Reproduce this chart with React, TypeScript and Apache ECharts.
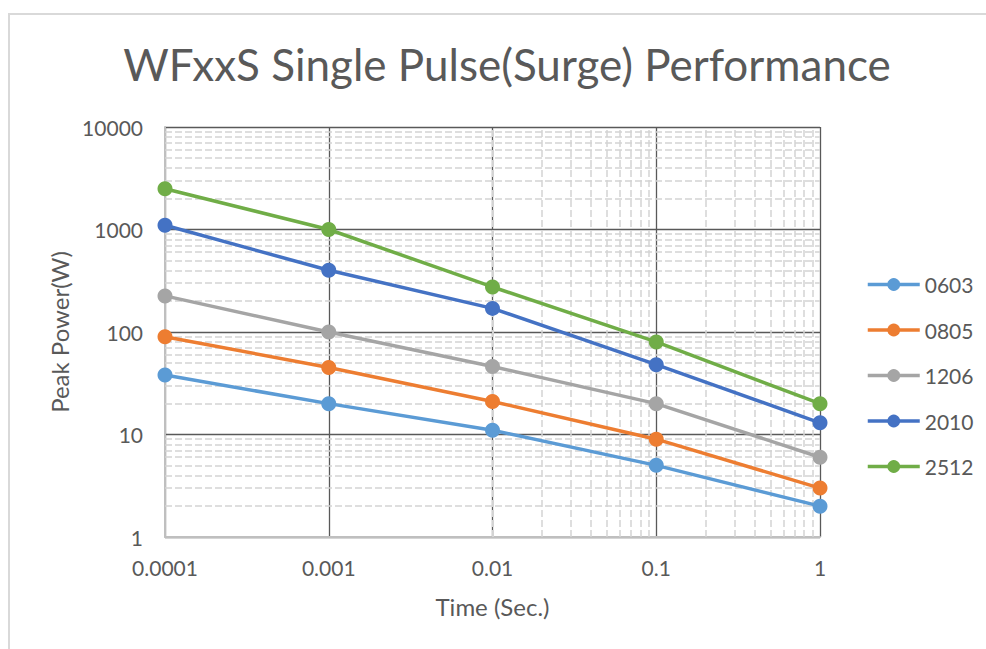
import React, { useEffect, useRef } from "react";
import * as echarts from "echarts";

const seriesNames = ["0603", "0805", "1206", "2010", "2512"];
const seriesColors = ["#5B9BD5", "#ED7D31", "#A5A5A5", "#4472C4", "#70AD47"];
const timeValues = [0.0001, 0.001, 0.01, 0.1, 1];
const xTickLabels = ["0.0001", "0.001", "0.01", "0.1", "1"];
const yTickLabels = ["1", "10", "100", "1000", "10000"];

const power0603 = [38, 20, 11, 5, 2];
const power0805 = [90, 45, 21, 9, 3];
const power1206 = [225, 100, 46, 20, 6];
const power2010 = [1100, 400, 170, 48, 13];
const power2512 = [2500, 1000, 275, 80, 20];
const allPower = [power0603, power0805, power1206, power2010, power2512];

const xDecades = [0.0001, 0.001, 0.01, 0.1];
const yDecades = [1, 10, 100, 1000];
const minorMultipliers = [2, 3, 4, 5, 6, 7, 8, 9];

const FONT = "Lato, 'Noto Sans', sans-serif";
const TEXT = "#595959";

export default function App() {
  const ref = useRef<HTMLDivElement>(null);
  useEffect(() => {
    if (!ref.current) return;
    const chart = echarts.init(ref.current, null, { renderer: "svg" });
    const minorX: any[] = [];
    xDecades.forEach((d) =>
      minorMultipliers.forEach((m) => minorX.push({ xAxis: parseFloat((d * m).toPrecision(6)) }))
    );
    const minorY: any[] = [];
    yDecades.forEach((d) =>
      minorMultipliers.forEach((m) => minorY.push({ yAxis: d * m }))
    );
    const dataSeries = seriesNames.map((name, i) => ({
      name,
      type: "line",
      z: 5,
      data: timeValues.map((t, j) => [t, allPower[i][j]]),
      symbol: "circle",
      symbolSize: 15,
      lineStyle: { color: seriesColors[i], width: 3.5 },
      itemStyle: { color: seriesColors[i] },
      color: seriesColors[i],
    }));
    chart.setOption({
      animation: false,
      backgroundColor: "#ffffff",
      title: {
        text: "WFxxS Single Pulse(Surge) Performance",
        left: 502,
        top: 37,
        textAlign: "center",
        textStyle: { fontFamily: FONT, fontSize: 44, fontWeight: "normal", color: TEXT },
      },
      graphic: [
        {
          type: "polyline",
          shape: { points: [[9, 660], [9, 14], [1000, 14]] },
          style: { stroke: "#d9d9d9", lineWidth: 2, fill: "none" },
          silent: true,
        },
      ],
      legend: {
        orient: "vertical",
        left: 866,
        top: 274,
        padding: 0,
        itemWidth: 52,
        itemHeight: 16,
        itemGap: 24.5,
        data: seriesNames,
        lineStyle: { width: 3.5 },
        textStyle: { fontFamily: FONT, fontSize: 21, color: TEXT },
      },
      grid: { left: 165, right: 166, top: 127, bottom: 112, containLabel: false },
      xAxis: {
        type: "log",
        logBase: 10,
        min: 0.0001,
        max: 1,
        z: 3,
        name: "Time (Sec.)",
        nameLocation: "middle",
        nameGap: 57,
        nameTextStyle: { fontFamily: FONT, fontSize: 24, color: TEXT },
        axisLine: { show: true, lineStyle: { color: "#bfbfbf", width: 2 } },
        axisTick: { show: false },
        axisLabel: {
          fontFamily: FONT,
          fontSize: 21,
          color: TEXT,
          margin: 20,
          formatter: (v: number) => xTickLabels[Math.round(Math.log10(v)) + 4] ?? "",
        },
        splitLine: { show: true, lineStyle: { color: "#595959", width: 1.3 } },
      },
      yAxis: {
        type: "log",
        logBase: 10,
        min: 1,
        max: 10000,
        z: 3,
        name: "Peak Power(W)",
        nameLocation: "middle",
        nameGap: 94,
        nameTextStyle: { fontFamily: FONT, fontSize: 24, color: TEXT },
        axisLine: { show: true, lineStyle: { color: "#bfbfbf", width: 2 } },
        axisTick: { show: false },
        axisLabel: {
          fontFamily: FONT,
          fontSize: 21,
          color: TEXT,
          margin: 22,
          formatter: (v: number) => yTickLabels[Math.round(Math.log10(v))] ?? "",
        },
        splitLine: { show: true, lineStyle: { color: "#595959", width: 1.3 } },
      },
      series: [
        {
          name: "minor-grid",
          type: "line",
          z: 1,
          silent: true,
          data: [],
          markLine: {
            silent: true,
            symbol: "none",
            animation: false,
            label: { show: false },
            lineStyle: { color: "#d4d4d4", width: 1.5, type: [7, 3] },
            data: [...minorX, ...minorY],
          },
        },
        ...dataSeries,
      ],
    });
    return () => chart.dispose();
  }, []);
  return (
    <div
      ref={ref}
      style={{ position: "fixed", left: 0, top: 0, width: 986, height: 649 }}
    />
  );
}
